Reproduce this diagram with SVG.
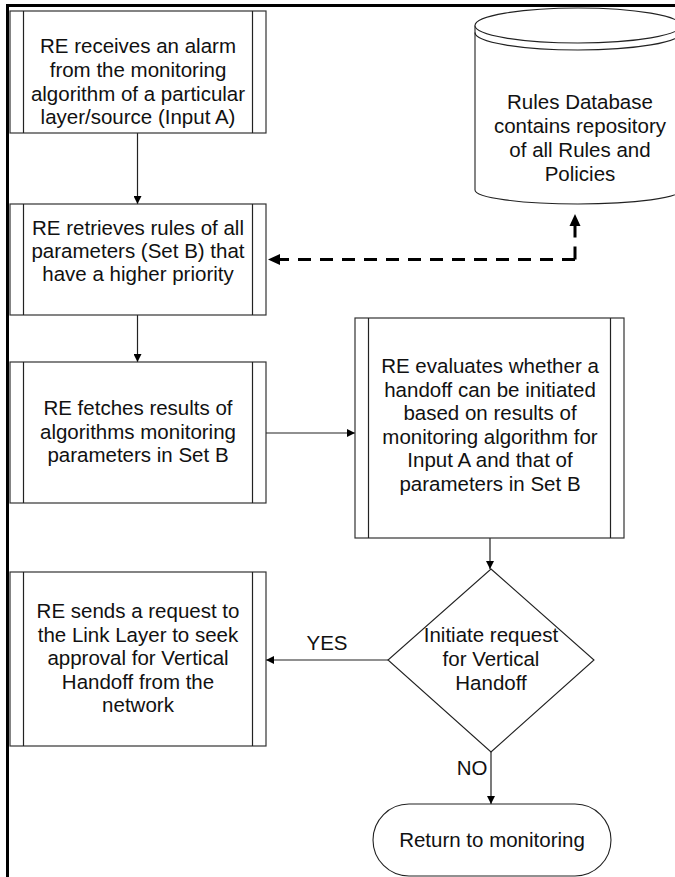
<svg xmlns="http://www.w3.org/2000/svg" width="675" height="877" viewBox="0 0 675 877">
  <style>
    .frame { stroke: #000; stroke-width: 3; fill: none; }
    .box { fill: #fff; stroke: #333; stroke-width: 1.2; }
    .bar { stroke: #222; stroke-width: 1.2; fill: none; }
    .shape { fill: #fff; stroke: #222; stroke-width: 1.1; }
    .lbl { font-family: "Liberation Sans", Arial, sans-serif; font-size: 20.5px; fill: #111; text-anchor: middle; }
    .conn { stroke: #222; stroke-width: 1.2; fill: none; marker-end: url(#arrow); }
    .dash { stroke: #000; stroke-width: 3; fill: none; stroke-dasharray: 13 9; }
  </style>
  <defs>
    <marker id="arrow" viewBox="0 0 10 10" refX="10" refY="5" markerWidth="8" markerHeight="8" markerUnits="userSpaceOnUse" orient="auto">
      <path d="M0,0 L10,5 L0,10 Z" fill="#000"/>
    </marker>
    <marker id="arrowBold" viewBox="0 0 10 10" refX="10" refY="5" markerWidth="12" markerHeight="11" markerUnits="userSpaceOnUse" orient="auto">
      <path d="M0,0 L10,5 L0,10 Z" fill="#000"/>
    </marker>
  </defs>

  <rect width="675" height="877" fill="#fff"/>

  <!-- page frame: top and left rules -->
  <g id="frame">
    <line class="frame" x1="6" y1="5.5" x2="675" y2="5.5"/>
    <line class="frame" x1="7.5" y1="4" x2="7.5" y2="877"/>
  </g>

  <!-- connectors -->
  <g id="connectors">
    <line class="conn" x1="137.5" y1="133" x2="137.5" y2="204"/>
    <line class="conn" x1="137.5" y1="315" x2="137.5" y2="362"/>
    <line class="conn" x1="266" y1="433" x2="355" y2="433"/>
    <line class="conn" x1="490" y1="538" x2="490" y2="569"/>
    <line class="conn" x1="388" y1="660" x2="266" y2="660"/>
    <line class="conn" x1="491" y1="752" x2="491" y2="804"/>
    <!-- dashed lookup between rules database and rule retrieval -->
    <path class="dash" d="M575,259.5 H278"/>
    <path class="dash" d="M575,259.5 V226"/>
    <path d="M268,259.5 L280,254 L280,265 Z" fill="#000"/>
    <path d="M575,214 L569.5,226 L580.5,226 Z" fill="#000"/>
    <text class="lbl" x="327" y="650">YES</text>
    <text class="lbl" x="472" y="775">NO</text>
  </g>

  <g id="alarm">
    <rect class="box" x="10" y="11" width="256" height="122"/>
    <line class="bar" x1="23.5" y1="11" x2="23.5" y2="133"/>
    <line class="bar" x1="252.5" y1="11" x2="252.5" y2="133"/>
    <text class="lbl" x="138" y="53">RE receives an alarm</text>
    <text class="lbl" x="138" y="77">from the monitoring</text>
    <text class="lbl" x="138" y="100.5">algorithm of a particular</text>
    <text class="lbl" x="138" y="124">layer/source (Input A)</text>
  </g>

  <g id="rulesdb">
    <path class="shape" d="M475,25.5 V190 A103,14 0 0 0 681,190 V25.5"/>
    <ellipse class="shape" cx="578" cy="25.5" rx="103" ry="17.5"/>
    <path class="bar" d="M475,32.5 A103,17.5 0 0 0 681,32.5" stroke-width="1.1"/>
    <text class="lbl" x="580" y="109">Rules Database</text>
    <text class="lbl" x="580" y="133">contains repository</text>
    <text class="lbl" x="580" y="157">of all Rules and</text>
    <text class="lbl" x="580" y="181">Policies</text>
  </g>

  <g id="retrieve">
    <rect class="box" x="10" y="204" width="256" height="111"/>
    <line class="bar" x1="23.5" y1="204" x2="23.5" y2="315"/>
    <line class="bar" x1="252.5" y1="204" x2="252.5" y2="315"/>
    <text class="lbl" x="138" y="235">RE retrieves rules of all</text>
    <text class="lbl" x="138" y="258">parameters (Set B) that</text>
    <text class="lbl" x="138" y="281">have a higher priority</text>
  </g>

  <g id="fetch">
    <rect class="box" x="10" y="362" width="256" height="141"/>
    <line class="bar" x1="23.5" y1="362" x2="23.5" y2="503"/>
    <line class="bar" x1="252.5" y1="362" x2="252.5" y2="503"/>
    <text class="lbl" x="138" y="415">RE fetches results of</text>
    <text class="lbl" x="138" y="438.5">algorithms monitoring</text>
    <text class="lbl" x="138" y="462">parameters in Set B</text>
  </g>

  <g id="evaluate">
    <rect class="box" x="355" y="318" width="269" height="220"/>
    <line class="bar" x1="368.5" y1="318" x2="368.5" y2="538"/>
    <line class="bar" x1="610.5" y1="318" x2="610.5" y2="538"/>
    <text class="lbl" x="490" y="373">RE evaluates whether a</text>
    <text class="lbl" x="490" y="396.5">handoff can be initiated</text>
    <text class="lbl" x="490" y="420">based on results of</text>
    <text class="lbl" x="490" y="443.5">monitoring algorithm for</text>
    <text class="lbl" x="490" y="467">Input A and that of</text>
    <text class="lbl" x="490" y="490.5">parameters in Set B</text>
  </g>

  <g id="decision">
    <path class="shape" d="M491,569 L594,660 L491,752 L388,660 Z"/>
    <text class="lbl" x="491" y="642">Initiate request</text>
    <text class="lbl" x="491" y="666">for Vertical</text>
    <text class="lbl" x="491" y="690">Handoff</text>
  </g>

  <g id="request">
    <rect class="box" x="10" y="572" width="256" height="174"/>
    <line class="bar" x1="23.5" y1="572" x2="23.5" y2="746"/>
    <line class="bar" x1="252.5" y1="572" x2="252.5" y2="746"/>
    <text class="lbl" x="138" y="618">RE sends a request to</text>
    <text class="lbl" x="138" y="641.5">the Link Layer to seek</text>
    <text class="lbl" x="138" y="665">approval for Vertical</text>
    <text class="lbl" x="138" y="688.5">Handoff from the</text>
    <text class="lbl" x="138" y="712">network</text>
  </g>

  <g id="return">
    <rect class="shape" x="373" y="804" width="238" height="72" rx="36" ry="36"/>
    <text class="lbl" x="492" y="847">Return to monitoring</text>
  </g>
</svg>
